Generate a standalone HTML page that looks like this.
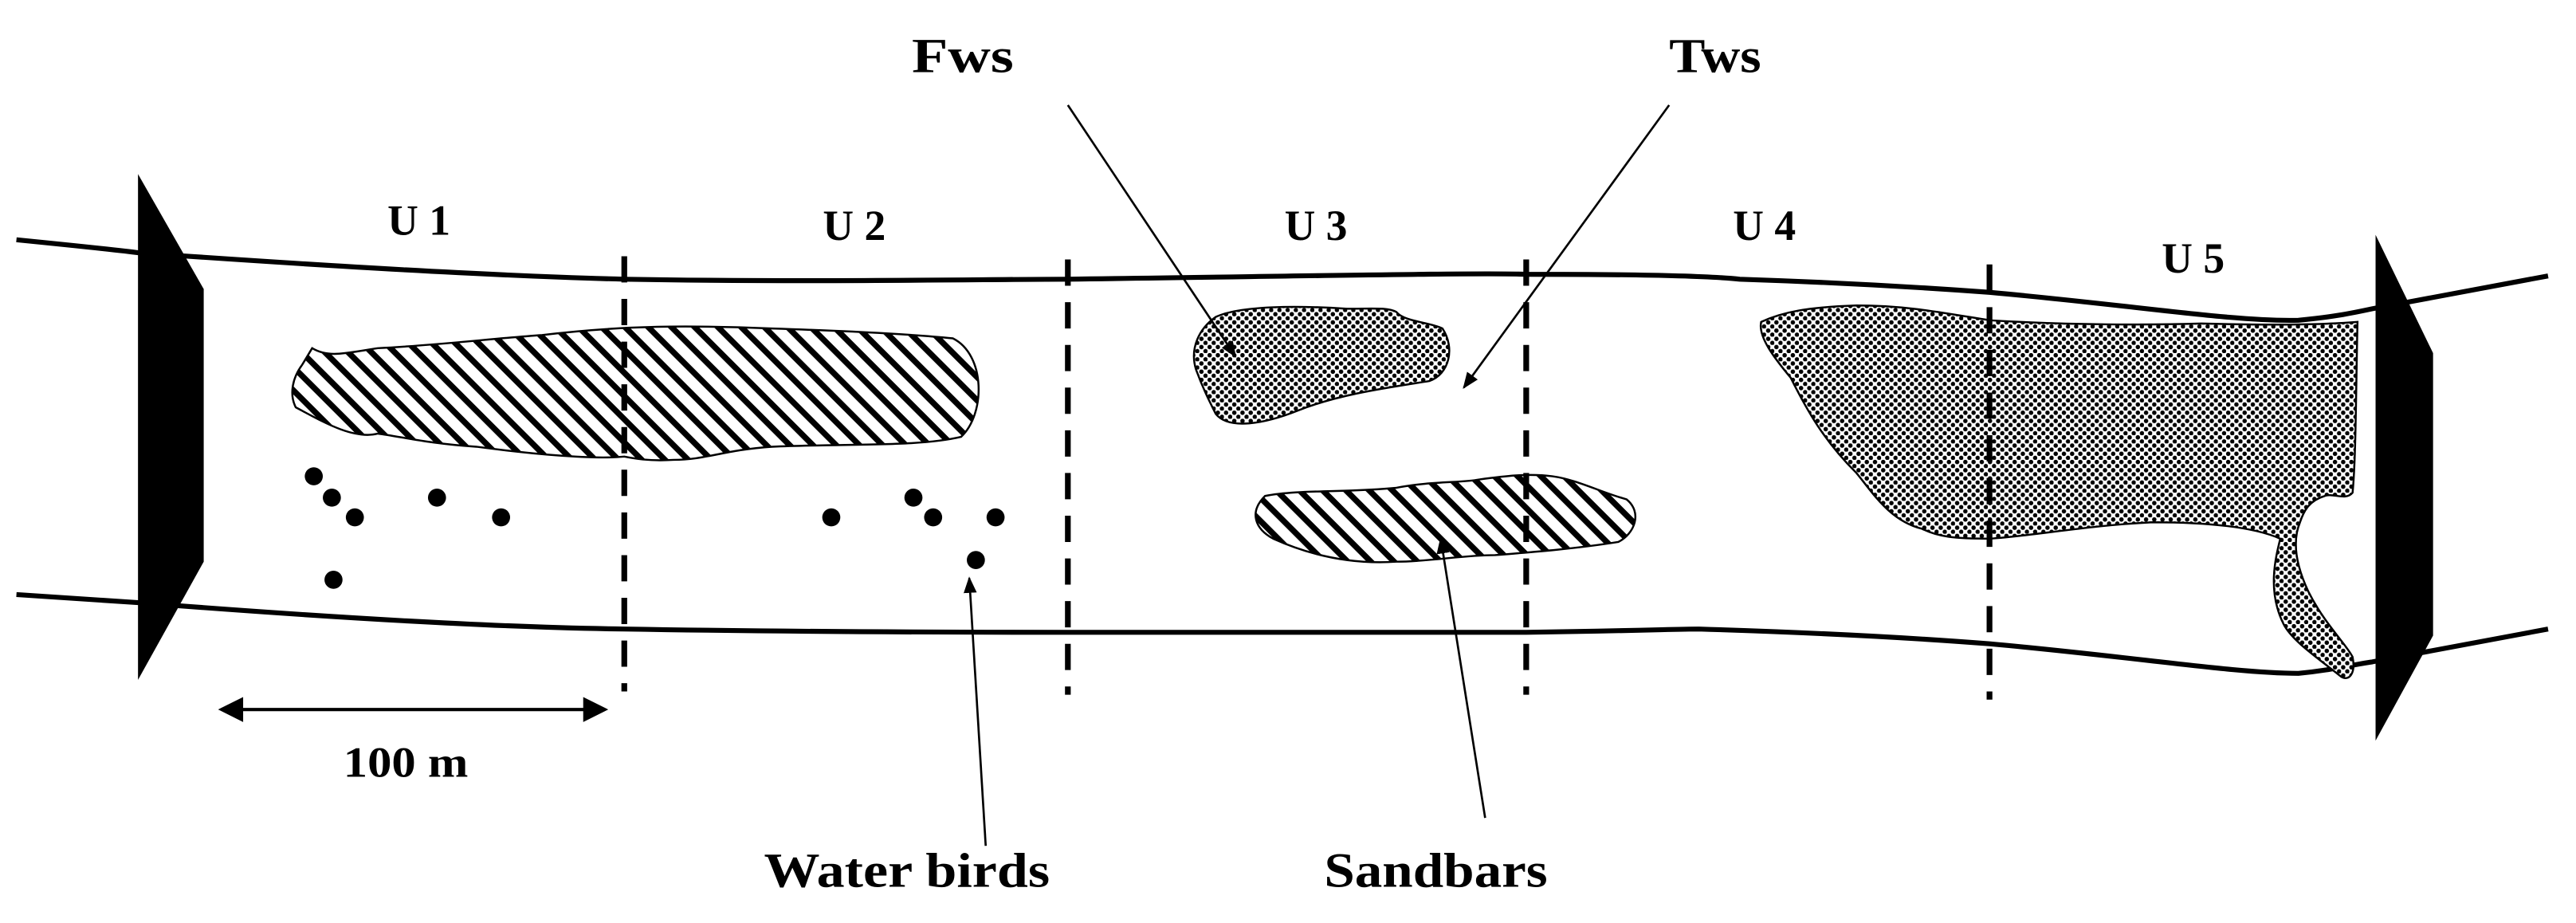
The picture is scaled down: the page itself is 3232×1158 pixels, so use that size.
<!DOCTYPE html>
<html><head><meta charset="utf-8"><style>
html,body{margin:0;padding:0;background:#fff;}
svg{display:block;}
text{font-family:"Liberation Serif",serif;font-weight:bold;fill:#000;}
</style></head><body>
<svg width="3232" height="1158" viewBox="0 0 1568 562" preserveAspectRatio="none" xmlns="http://www.w3.org/2000/svg">
<defs>
<pattern id="hatch" patternUnits="userSpaceOnUse" width="10" height="10" patternTransform="rotate(45)">
<rect width="10" height="10" fill="#fff"/>
<rect x="0" y="0" width="10" height="3.6" fill="#000"/>
</pattern>
<pattern id="dots" patternUnits="userSpaceOnUse" width="5" height="5">
<rect width="5" height="5" fill="#fff"/>
<circle cx="1.3" cy="1.3" r="1.35" fill="#000"/>
<circle cx="3.8" cy="3.8" r="1.35" fill="#000"/>
</pattern>
<marker id="ah" markerWidth="10" markerHeight="10" refX="9" refY="5" orient="auto" markerUnits="userSpaceOnUse">
<path d="M0,1 L10,5 L0,9 Z" fill="#000"/>
</marker>
</defs>
<rect width="1568" height="562" fill="#fff"/>

<path d="M10,146 C40,149 70,152 85,154 C200,162 300,168 380,170 C500,172 600,170 650,170 C800,168 900,166 929,167 C1000,167 1040,168 1059,170 C1120,172 1170,175 1211,178 C1300,186 1360,196 1399,195 C1420,193 1430,191 1444,188 L1551,168" fill="none" stroke="#000" stroke-width="3"/>
<path d="M10,362 C40,364 70,366 85,367 C200,376 300,382 380,383 C500,385 600,385 650,385 C800,385 900,385 929,385 C1000,384 1020,383 1034,383 C1100,385 1160,388 1211,392 C1300,400 1360,410 1399,410 C1420,408 1430,405 1444,403 L1551,383" fill="none" stroke="#000" stroke-width="3"/>

<polygon points="84,106 124,176 124,342 84,414" fill="#000"/>
<polygon points="1446,143 1481,215 1481,387 1446,451" fill="#000"/>

<path d="M190,212 C200,218 210,215 230,212 C270,210 300,206 330,204 C380,198 420,198 470,200 C530,202 560,204 580,206 C600,216 600,252 585,266 C560,272 520,270 470,272 C440,274 430,280 410,280 C395,281 385,279 380,278 C360,280 320,276 290,272 C260,270 245,266 230,264 C215,268 195,256 180,248 C176,240 178,230 184,222 Z" fill="url(#hatch)" stroke="#000" stroke-width="1.2"/>
<path d="M740,193 C755,186 790,186 820,188 C835,188 845,187 850,190 C855,196 870,196 878,200 C886,212 882,228 870,232 C845,236 815,240 790,250 C770,258 748,262 740,252 C736,244 732,236 728,225 C724,212 730,200 740,193 Z" fill="url(#dots)" stroke="#000" stroke-width="1.2"/>
<path d="M770,302 C790,298 820,300 850,297 C870,293 890,294 900,292 C915,290 930,288 945,290 C960,292 975,300 990,304 C1000,312 995,325 985,330 C960,334 935,336 910,338 C890,338 870,342 850,342 C820,344 795,337 775,328 C764,322 760,312 770,302 Z" fill="url(#hatch)" stroke="#000" stroke-width="1.2"/>
<path d="M1072,196 C1085,190 1100,187 1130,186 C1160,186 1180,190 1211,195 C1260,198 1310,198 1340,197 C1380,198 1410,198 1435,196 C1434,240 1434,280 1432,300 C1428,305 1420,300 1415,302 C1405,305 1402,312 1400,318 C1395,330 1398,345 1405,360 C1415,380 1428,392 1432,400 C1434,410 1430,415 1425,412 C1410,400 1395,390 1390,380 C1380,360 1385,340 1388,328 C1370,320 1340,318 1310,318 C1270,320 1240,326 1211,328 C1190,328 1180,327 1170,322 C1150,317 1140,300 1130,288 C1110,268 1100,250 1090,230 C1080,218 1070,205 1072,196 Z" fill="url(#dots)" stroke="#000" stroke-width="1.2"/>

<g stroke="#000" stroke-width="3.5" stroke-dasharray="16,10">
<line x1="380" y1="156" x2="380" y2="421"/>
<line x1="650" y1="158" x2="650" y2="423"/>
<line x1="929" y1="158" x2="929" y2="423"/>
<line x1="1211" y1="161" x2="1211" y2="426"/>
</g>

<g fill="#000">
<circle cx="191" cy="290" r="5.5"/><circle cx="202" cy="303" r="5.5"/><circle cx="216" cy="315" r="5.5"/>
<circle cx="266" cy="303" r="5.5"/><circle cx="305" cy="315" r="5.5"/><circle cx="203" cy="353" r="5.5"/>
<circle cx="506" cy="315" r="5.5"/><circle cx="556" cy="303" r="5.5"/><circle cx="568" cy="315" r="5.5"/>
<circle cx="606" cy="315" r="5.5"/><circle cx="594" cy="341" r="5.5"/>
</g>

<g stroke="#000" stroke-width="1.3" fill="none">
<line x1="650" y1="64" x2="752" y2="217" marker-end="url(#ah)"/>
<line x1="1016" y1="64" x2="891" y2="236" marker-end="url(#ah)"/>
<line x1="600" y1="515" x2="590" y2="352" marker-end="url(#ah)"/>
<line x1="904" y1="498" x2="877" y2="328" marker-end="url(#ah)"/>
</g>
<g stroke="#000" stroke-width="2" fill="#000">
<line x1="138" y1="432" x2="364" y2="432"/>
<path d="M135,432 L147,426 L147,438 Z"/>
<path d="M368,432 L356,426 L356,438 Z"/>
</g>

<g font-size="26">
<text x="255" y="143" text-anchor="middle">U 1</text>
<text x="520" y="146" text-anchor="middle">U 2</text>
<text x="801" y="146" text-anchor="middle">U 3</text>
<text x="1074" y="146" text-anchor="middle">U 4</text>
<text x="1335" y="166" text-anchor="middle">U 5</text>
<text x="247" y="473" text-anchor="middle" textLength="76" lengthAdjust="spacingAndGlyphs">100 m</text>
</g>
<g font-size="30">
<text x="586" y="44" text-anchor="middle" textLength="62" lengthAdjust="spacingAndGlyphs">Fws</text>
<text x="1044" y="44" text-anchor="middle" textLength="56" lengthAdjust="spacingAndGlyphs">Tws</text>
<text x="552" y="540" text-anchor="middle" textLength="174" lengthAdjust="spacingAndGlyphs">Water birds</text>
<text x="874" y="540" text-anchor="middle" textLength="136" lengthAdjust="spacingAndGlyphs">Sandbars</text>
</g>
</svg>
</body></html>
